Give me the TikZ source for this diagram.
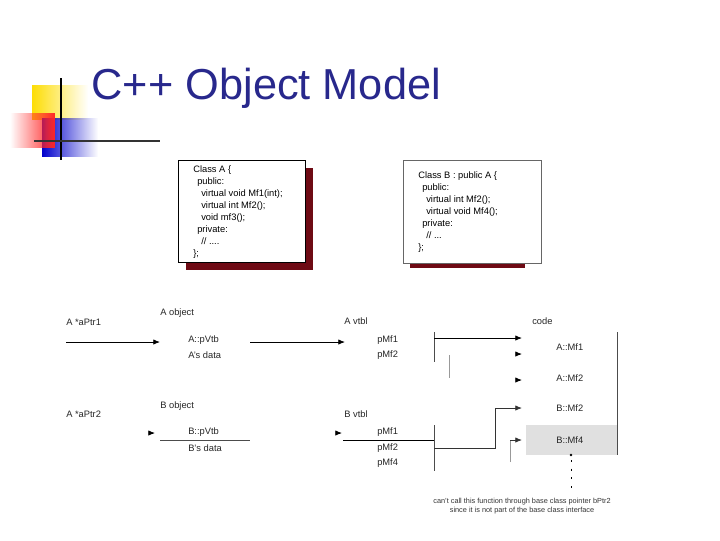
\documentclass[tikz,border=0pt]{standalone}
\usepackage{fontspec}
\setmainfont{Liberation Sans}
\usetikzlibrary{positioning,arrows.meta,fadings}
\definecolor{titleblue}{RGB}{40,40,140}
\definecolor{shadowred}{RGB}{110,10,20}
\tikzset{
  lbl/.style={font=\fontsize{7}{8}\selectfont,inner sep=0pt,anchor=west,text=black!85},
  ptr/.style={-{Latex[length=5pt,width=4pt]},line width=0.6pt},
  tip/.style={-{Latex[length=5pt,width=4pt]},line width=0.6pt},
  wire/.style={line width=0.5pt,black!70},
  classtext/.style={align=left,anchor=north west,font=\fontsize{7}{9}\selectfont,inner sep=0pt}
}
\begin{document}
\begin{tikzpicture}[x=0.75pt,y=-0.75pt]
\useasboundingbox (0,0) rectangle (720,540);
% decoration
\fill[yellow!80!orange,path fading=east] (32,85) rectangle (88,120);
\fill[blue!80!black,path fading=east] (42,118) rectangle (98,157);
\fill[red!85,path fading=west] (10,113) rectangle (55,148);
\draw[line width=1.5pt] (61,78) -- (61,160);
\draw[line width=1.5pt,black!80] (34,141) -- (160,141);
\node[anchor=west,text=titleblue,font=\fontsize{32.5}{36}\selectfont] (title) at (87,88) {C++ Object Model};
% class boxes
\fill[shadowred] (186,168) rectangle (313,270);
\draw[fill=white,line width=0.6pt] (178,160) rectangle (305,262);
\node[classtext] (clsA) at (193,165)
  {Class A \{\\
   \hspace*{3pt}public:\\
   \hspace*{6pt}virtual void Mf1(int);\\
   \hspace*{6pt}virtual int Mf2();\\
   \hspace*{6pt}void mf3();\\
   \hspace*{3pt}private:\\
   \hspace*{6pt}// ....\\
   \};};
\fill[shadowred] (410,258) rectangle (525,268);
\draw[fill=white,line width=0.5pt,draw=black!60] (403,160) rectangle (541,263);
\node[classtext] (clsB) at (418,171)
  {Class B : public A \{\\
   \hspace*{3pt}public:\\
   \hspace*{6pt}virtual int Mf2();\\
   \hspace*{6pt}virtual void Mf4();\\
   \hspace*{3pt}private:\\
   \hspace*{6pt}// ...\\
   \};};
% A side
\node[lbl] (aptr1) at (66,322) {A *aPtr1};
\node[lbl] (aobj) at (160,313) {A object};
\node[lbl] (apvtb) at (188,340) {A::pVtb};
\node[lbl] (adata) at (188,355) {A's data};
\node[lbl] (avtbl) at (344,321) {A vtbl};
\node[lbl] (ampf1) at (377,340) {pMf1};
\node[lbl] (ampf2) at (377,355) {pMf2};
\node[lbl] (code) at (532,321) {code};
\node[lbl] (amf1) at (556,347) {A::Mf1};
\node[lbl] (amf2) at (556,378) {A::Mf2};
\node[lbl] (bmf2) at (556,408) {B::Mf2};
\fill[black!12] (526,425) rectangle (617,455);
\node[lbl] (bmf4) at (556,440) {B::Mf4};
\draw[ptr] (66,342) -- (160,342);
\draw[ptr] (250,342) -- (345,342);
\draw[wire] (434,332) -- (434,362);
\draw[ptr] (434,338) -- (522,338);
\draw[wire,black!40] (449,355) -- (449,378);
\draw[tip] (520,354) -- (522,354);
\draw[tip] (520,380) -- (522,380);
\draw[wire] (617,332) -- (617,455);
% B side
\node[lbl] (aptr2) at (66,414) {A *aPtr2};
\node[lbl] (bobj) at (160,406) {B object};
\node[lbl] (bpvtb) at (188,432) {B::pVtb};
\node[lbl] (bdata) at (188,448) {B's data};
\node[lbl] (bvtbl) at (344,414) {B vtbl};
\node[lbl] (bmpf1) at (377,432) {pMf1};
\node[lbl] (bmpf2) at (377,448) {pMf2};
\node[lbl] (bmpf4) at (377,463) {pMf4};
\draw[tip] (153,433) -- (155,433);
\draw[wire] (160,440) -- (250,440);
\draw[tip] (340,433) -- (342,433);
\draw[line width=0.6pt] (343,440) -- (434,440);
\draw[wire] (434,425) -- (434,471);
\draw[ptr,black!80] (434,448) -- (495,448) -- (495,408) -- (522,408);
\draw[wire,black!40] (510,462) -- (510,440);
\draw[ptr,black!80] (510,440) -- (522,440);
\fill (571,455) circle (1.3);
\draw[line width=0.7pt,dash pattern=on 1.5pt off 5pt] (571,460) -- (571,488);
\node[font=\fontsize{5.5}{7}\selectfont,align=center,text=black!80] (note) at (522,506)
  {can't call this function through base class pointer bPtr2\\since it is not part of the base class interface};
\end{tikzpicture}
\end{document}
